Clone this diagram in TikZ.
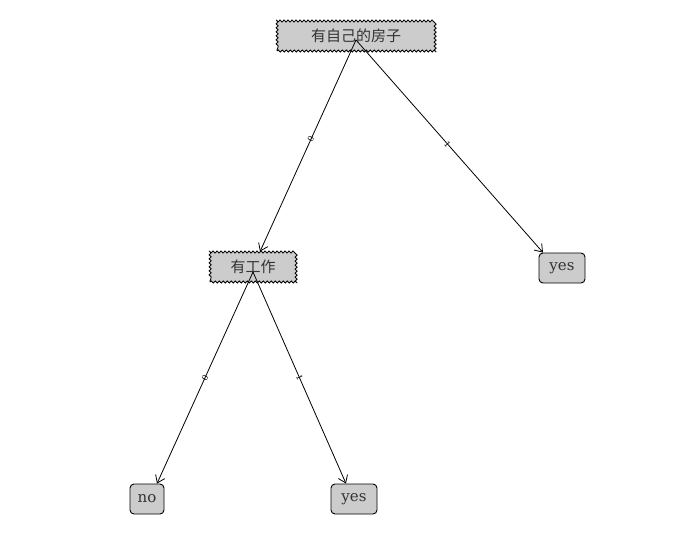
\documentclass[tikz,border=0pt]{standalone}
\usepackage{fontspec}
\setmainfont{DejaVu Serif}
\newfontfamily\cjk{Noto Sans CJK SC}
\usetikzlibrary{decorations.pathmorphing,arrows.meta}
\tikzset{
  decnode/.style={draw, fill=black!20, line width=0.8pt, decorate, decoration={snake, segment length=4pt, amplitude=1.1pt}, font=\cjk\fontsize{15}{15}\selectfont, text=black!80, inner sep=3pt, minimum height=30pt},
  leafnode/.style={draw, fill=black!20, line width=0.9pt, rounded corners=4pt, font=\fontsize{15}{15}\selectfont, text=black!80, inner sep=3pt, minimum height=30pt, minimum width=34pt},
  edge/.style={-{Straight Barb[length=7pt,width=10pt]}, line width=0.8pt},
  elab/.style={sloped, font=\fontsize{8}{8}\selectfont, inner sep=0pt}
}
\begin{document}
\begin{tikzpicture}[x=1pt,y=-1pt]
\useasboundingbox (0,0) rectangle (677,543);
\node[decnode, minimum width=158pt] (root) at (356,36) {有自己的房子};
\node[decnode, minimum width=86pt] (work) at (253,267) {有工作};
\node[leafnode, minimum width=46pt] (yes1) at (562,268) {yes};
\node[leafnode] (no) at (147,499) {no};
\node[leafnode, minimum width=46pt] (yes2) at (354,499) {yes};
\coordinate (r0) at (356,40);
\coordinate (w0) at (253,272);
\draw[edge] (r0) -- node[elab, pos=0.47]{0} (work.north -| 260,0);
\draw[edge] (r0) -- node[elab, pos=0.49]{1} (yes1.north -| 543,0);
\draw[edge] (w0) -- node[elab, pos=0.5]{0} (no.north -| 157,0);
\draw[edge] (w0) -- node[elab, pos=0.5]{1} (yes2.north -| 346,0);
\end{tikzpicture}
\end{document}
